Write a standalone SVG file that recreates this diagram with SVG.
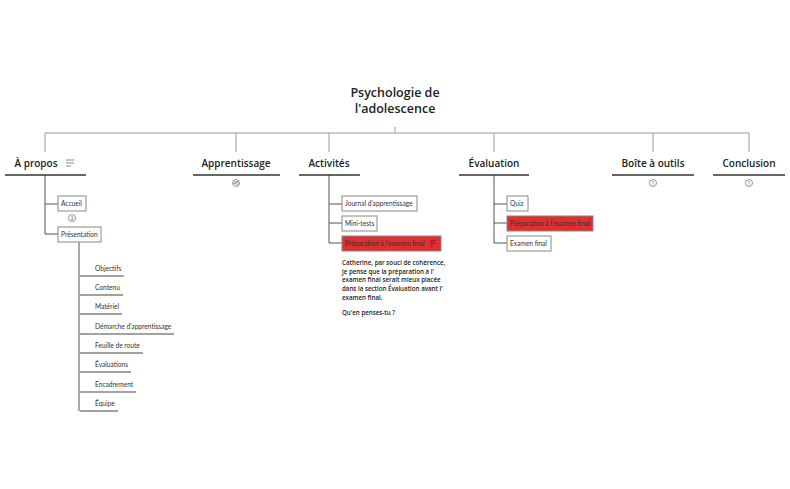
<svg xmlns="http://www.w3.org/2000/svg" width="790" height="489" viewBox="0 0 790 489">
<style>
text{font-family:"Open Sans","Liberation Sans",sans-serif;fill:#222}
.root{font-size:12.5px;font-weight:600;text-anchor:middle}
.topic{font-size:10px;font-weight:600;text-anchor:middle}
.uline{stroke:#333;stroke-width:1.6}
.gline{stroke:#999;stroke-width:1;fill:none}
.cline{stroke:#555;stroke-width:1;fill:none}
.box{fill:#fff;stroke:#888;stroke-width:1}
.red{fill:#e02f2f;stroke:#888;stroke-width:1}
.small{font-family:Lato,"Liberation Sans",sans-serif;font-size:6.6px;fill:#333}
.sub{stroke:#444;stroke-width:1}
.badge{fill:#fff;stroke:#666;stroke-width:0.7}
.bt{font-size:4.5px;text-anchor:middle;fill:#444}
.note{font-size:6.2px;font-weight:600}
.icon{stroke:#888;stroke-width:1}
</style>
<g id="connectors">
<path class="gline" d="M395 127V133M45 133H749M45 133V152M236 133V152M329 133V152M494 133V152M653 133V152M749 133V152"/>
<path class="cline" d="M45 175V234H58M45 204H58"/>
<path class="cline" d="M79 242V411"/>
<path class="cline" d="M329 175V243H342M329 204H342M329 223H342"/>
<path class="cline" d="M494 175V243H507M494 204H507M494 223H507"/>
</g>
<g id="root"><text class="root" x="395" y="97">Psychologie de</text><text class="root" x="395" y="113">l'adolescence</text></g>
<g id="apropos"><text class="topic" x="36" y="167">À propos</text>
<path class="icon" d="M66 160H74M66 163H74M66 166H71"/>
<line class="uline" x1="5" y1="175" x2="86" y2="175"/></g>
<g id="apprentissage"><text class="topic" x="236" y="167">Apprentissage</text><line class="uline" x1="193" y1="175" x2="280" y2="175"/>
<circle class="badge" cx="236" cy="183" r="3.5"/><text class="bt" x="236" y="184.6">45</text></g>
<g id="activites"><text class="topic" x="329" y="167">Activités</text><line class="uline" x1="299" y1="175" x2="360" y2="175"/></g>
<g id="evaluation"><text class="topic" x="494" y="167">Évaluation</text><line class="uline" x1="459" y1="175" x2="529" y2="175"/></g>
<g id="boite"><text class="topic" x="653" y="167">Boîte à outils</text><line class="uline" x1="612" y1="175" x2="694" y2="175"/>
<circle class="badge" cx="653" cy="183" r="3.5"/><text class="bt" x="653" y="184.6">1</text></g>
<g id="conclusion"><text class="topic" x="749" y="167">Conclusion</text><line class="uline" x1="713" y1="175" x2="785" y2="175"/>
<circle class="badge" cx="749" cy="183" r="3.5"/><text class="bt" x="749" y="184.6">1</text></g>
<g id="accueil"><rect class="box" x="58" y="196" width="28" height="15"/><text class="small" x="61" y="206">Accueil</text>
<circle class="badge" cx="72" cy="218" r="3.5"/><text class="bt" x="72" y="219.6">2</text></g>
<g id="presentation"><rect class="box" x="58" y="227" width="43" height="15"/><text class="small" x="61" y="237">Présentation</text></g>
<g id="objectifs"><text class="small" x="95" y="271">Objectifs</text><line class="sub" x1="80" y1="276" x2="124" y2="276"/></g>
<g id="contenu"><text class="small" x="95" y="290">Contenu</text><line class="sub" x1="80" y1="295" x2="123" y2="295"/></g>
<g id="materiel"><text class="small" x="95" y="309">Matériel</text><line class="sub" x1="80" y1="314" x2="122" y2="314"/></g>
<g id="demarche"><text class="small" x="95" y="329">Démarche d'apprentissage</text><line class="sub" x1="80" y1="334" x2="174" y2="334"/></g>
<g id="feuille"><text class="small" x="95" y="348">Feuille de route</text><line class="sub" x1="80" y1="353" x2="143" y2="353"/></g>
<g id="evaluations"><text class="small" x="95" y="367">Évaluations</text><line class="sub" x1="80" y1="372" x2="131" y2="372"/></g>
<g id="encadrement"><text class="small" x="95" y="387">Encadrement</text><line class="sub" x1="80" y1="392" x2="136" y2="392"/></g>
<g id="equipe"><text class="small" x="95" y="406">Équipe</text><line class="sub" x1="80" y1="411" x2="118" y2="411"/></g>
<g id="journal"><rect class="box" x="342" y="196" width="75" height="15"/><text class="small" x="345" y="206">Journal d'apprentissage</text></g>
<g id="minitests"><rect class="box" x="342" y="216" width="35" height="15"/><text class="small" x="345" y="226">Mini-tests</text></g>
<g id="prep1"><rect class="red" x="342" y="236" width="99" height="15"/><text class="small" x="345" y="246">Préparation à l'examen final</text>
<path stroke="#7a1a1a" stroke-width="0.9" d="M430 241H436M430 243.5H436M430 246H433"/></g>
<g id="comment"><text class="note" x="342" y="265">Catherine, par souci de cohérence,</text>
<text class="note" x="342" y="273.7">je pense que la préparation à l'</text>
<text class="note" x="342" y="282.4">examen final serait mieux placée</text>
<text class="note" x="342" y="291.1">dans la section Évaluation avant l'</text>
<text class="note" x="342" y="299.8">examen final.</text>
<text class="note" x="342" y="315">Qu'en penses-tu ?</text></g>
<g id="quiz"><rect class="box" x="507" y="196" width="21" height="15"/><text class="small" x="510" y="206">Quiz</text></g>
<g id="prep2"><rect class="red" x="507" y="216" width="86" height="15"/><text class="small" x="510" y="226">Préparation à l'examen final</text></g>
<g id="examen"><rect class="box" x="507" y="236" width="44" height="15"/><text class="small" x="510" y="246">Examen final</text></g>
</svg>
